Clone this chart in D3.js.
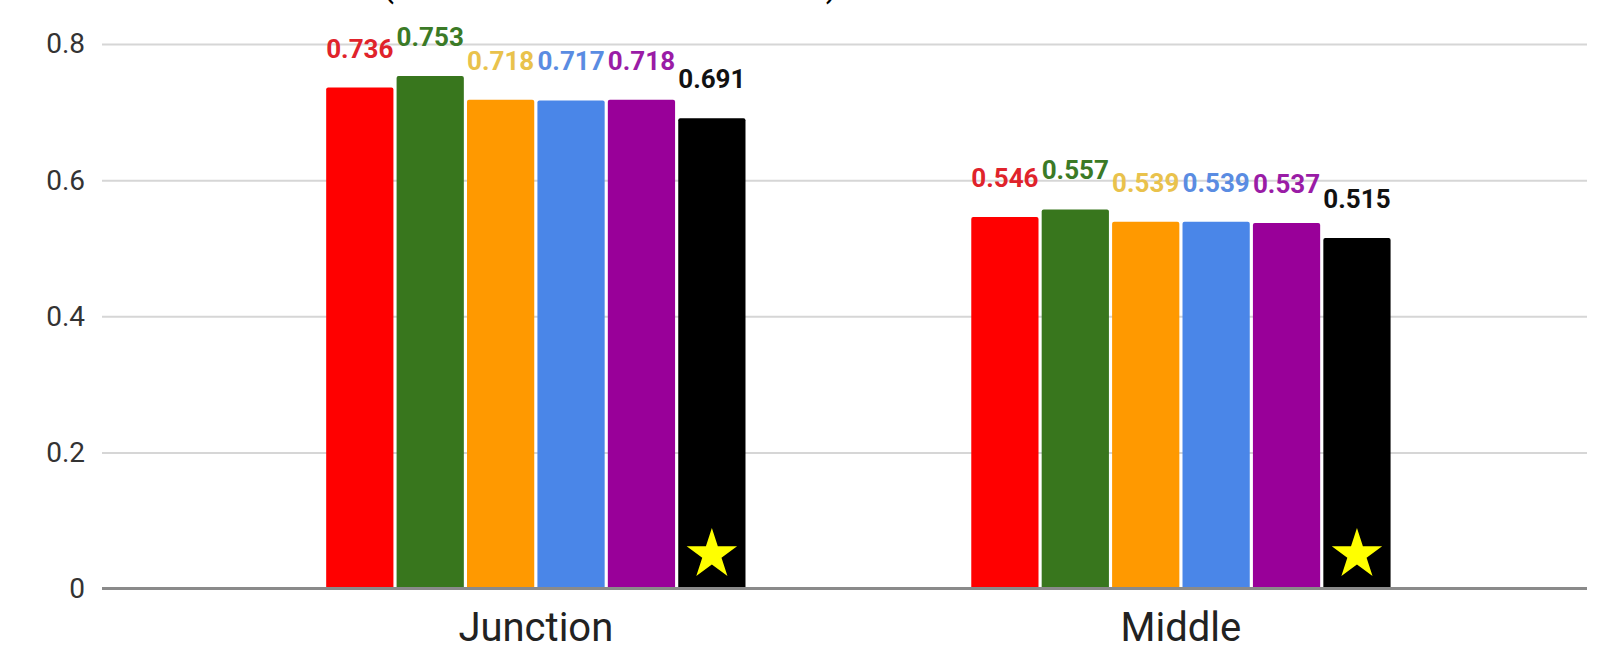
<!DOCTYPE html>
<html>
<head>
<meta charset="utf-8">
<script src="https://cdn.jsdelivr.net/npm/d3@7"></script>
<style>
  html, body { margin: 0; padding: 0; background: #fff; }
  svg { display: block; font-family: Roboto, "Noto Sans", Arial, sans-serif; }
</style>
</head>
<body>
<svg id="chart" width="1608" height="650"></svg>
<script>
// Scores per location, six methods each
const categories = ["Junction", "Middle"];
const series = ["m1", "m2", "m3", "m4", "m5", "m6"];
const junctionValues = [0.736, 0.753, 0.718, 0.717, 0.718, 0.691];
const middleValues = [0.546, 0.557, 0.539, 0.539, 0.537, 0.515];
const yTicks = [0, 0.2, 0.4, 0.6, 0.8];
const starredSeries = "m6";

const barColors = ["#ff0000", "#38761d", "#ff9900", "#4a86e8", "#990099", "#000000"];
const labelColors = ["#e0232b", "#3b7a26", "#e9c24c", "#5a8ce2", "#9a1ca6", "#111111"];

const rows = categories.map((c, i) => ({
  category: c,
  values: series.map((s, j) => ({ key: s, value: [junctionValues, middleValues][i][j] }))
}));

const svg = d3.select("#chart");
const plotLeft = 102, plotRight = 1587;

const y = d3.scaleLinear().domain([0, 0.8]).range([588.5, 44]);
const x0 = d3.scaleBand().domain(categories).range([plotLeft, plotRight])
  .paddingInner(0.35).paddingOuter(0.326).align(0.533);
const x1 = d3.scaleBand().domain(series).range([0, x0.bandwidth()])
  .paddingInner(0.045).paddingOuter(0);
const color = d3.scaleOrdinal().domain(series).range(barColors);
const labelColor = d3.scaleOrdinal().domain(series).range(labelColors);

// title sits above the top edge; only the tails of its brackets show
svg.append("text").attr("x", 388).attr("y", -4).attr("text-anchor", "middle")
  .attr("font-size", 36).attr("fill", "#000").text("(");
svg.append("text").attr("x", 832).attr("y", -4).attr("text-anchor", "middle")
  .attr("font-size", 36).attr("fill", "#000").text(")");

// horizontal gridlines + tick labels
const yAxis = d3.axisLeft(y).tickValues(yTicks).tickSize(-(plotRight - plotLeft))
  .tickPadding(17).tickFormat(d => d === 0 ? "0" : d3.format(".1f")(d));
const gy = svg.append("g").attr("transform", `translate(${plotLeft},0)`).call(yAxis);
gy.select(".domain").remove();
gy.selectAll(".tick line").attr("stroke", "#d6d6d6").attr("stroke-width", 2);
gy.selectAll(".tick text").attr("font-size", 28).attr("fill", "#333")
  .attr("font-family", "Roboto, sans-serif");

// bars
const groups = svg.append("g").selectAll("g").data(rows).join("g")
  .attr("transform", d => `translate(${x0(d.category)},0)`);

groups.selectAll("rect").data(d => d.values).join("rect")
  .attr("x", d => x1(d.key))
  .attr("y", d => y(d.value))
  .attr("width", x1.bandwidth())
  .attr("height", d => y(0) - y(d.value))
  .attr("rx", 2)
  .attr("fill", d => color(d.key));

// value labels
groups.selectAll("text.val").data(d => d.values).join("text")
  .attr("class", "val")
  .attr("x", d => x1(d.key) + x1.bandwidth() / 2)
  .attr("y", d => y(d.value) - 30)
  .attr("text-anchor", "middle")
  .attr("font-size", 26)
  .attr("font-weight", "bold")
  .attr("fill", d => labelColor(d.key))
  .text(d => d3.format(".3f")(d.value));

// star marker on the highlighted method
const star = d3.symbol().type(d3.symbolStar).size(26.5 * 26.5 / 0.8908130915292852);
groups.append("path")
  .attr("d", star())
  .attr("fill", "#ffff00")
  .attr("transform", d => `translate(${x1(starredSeries) + x1.bandwidth() / 2},${y(0) - 34})`);

// baseline
svg.append("line").attr("x1", plotLeft).attr("x2", plotRight)
  .attr("y1", y(0)).attr("y2", y(0))
  .attr("stroke", "#8a8a8a").attr("stroke-width", 3);

// category labels
svg.append("g").selectAll("text").data(categories).join("text")
  .attr("x", d => x0(d) + x0.bandwidth() / 2)
  .attr("y", 641)
  .attr("text-anchor", "middle")
  .attr("font-size", 40)
  .attr("fill", "#222")
  .text(d => d);
</script>
</body>
</html>
